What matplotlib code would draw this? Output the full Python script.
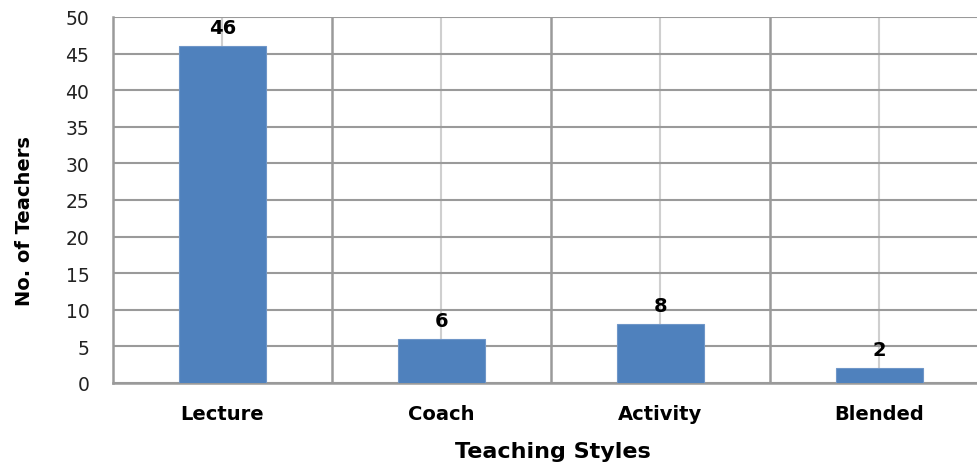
import matplotlib
matplotlib.use("Agg")
import matplotlib.pyplot as plt
from matplotlib.ticker import FixedLocator

categories = ["Lecture", "Coach", "Activity", "Blended"]
values = [46, 6, 8, 2]
y_ticks = [0, 5, 10, 15, 20, 25, 30, 35, 40, 45, 50]

plt.rcParams['font.family'] = ['DejaVu Sans']

fig = plt.figure(figsize=(9.78, 4.64), dpi=100)
ax = fig.add_axes([113/978, 1-384/464, 876/978, 366/464])

x = list(range(len(categories)))
bars = ax.bar(x, values, width=0.4, color="#4F81BD", edgecolor="#6f96c8", linewidth=0.8, zorder=3)

ax.set_xlim(-0.5, len(categories) - 0.5)
ax.set_ylim(0, 50)
ax.set_yticks(y_ticks)
ax.set_xticks(x)
ax.set_xticklabels(categories, fontweight="bold", fontsize=14)
ax.xaxis.set_minor_locator(FixedLocator([i + 0.5 for i in range(len(categories) - 1)]))

ax.grid(axis="y", color="#9a9a9a", linewidth=1.5, zorder=0)
ax.grid(axis="x", which="major", color="#cfcfcf", linewidth=1.5, zorder=0)
ax.grid(axis="x", which="minor", color="#9a9a9a", linewidth=1.8, zorder=0)

for s in ["top", "right"]:
    ax.spines[s].set_visible(False)
ax.spines["left"].set_color("#9a9a9a")
ax.spines["left"].set_linewidth(1.8)
ax.spines["bottom"].set_color("#9a9a9a")
ax.spines["bottom"].set_linewidth(1.8)

ax.tick_params(axis="y", length=0, pad=17, labelsize=13.5, labelcolor="#222222")
ax.tick_params(axis="x", which="both", length=0, pad=15)

for xi, v in zip(x, values):
    ax.text(xi, v + 1.3, str(v), ha="center", va="bottom", fontweight="bold", fontsize=14, zorder=4)

ax.set_xlabel("Teaching Styles", fontweight="bold", fontsize=16)
ax.set_ylabel("No. of Teachers", fontweight="bold", fontsize=14)
ax.xaxis.set_label_coords((553 - 113) / 876, -(442 - 384) / 366)
ax.yaxis.set_label_coords(-(113 - 34) / 876, (384 - 221) / 366)

fig.savefig("out.png", dpi=100)
